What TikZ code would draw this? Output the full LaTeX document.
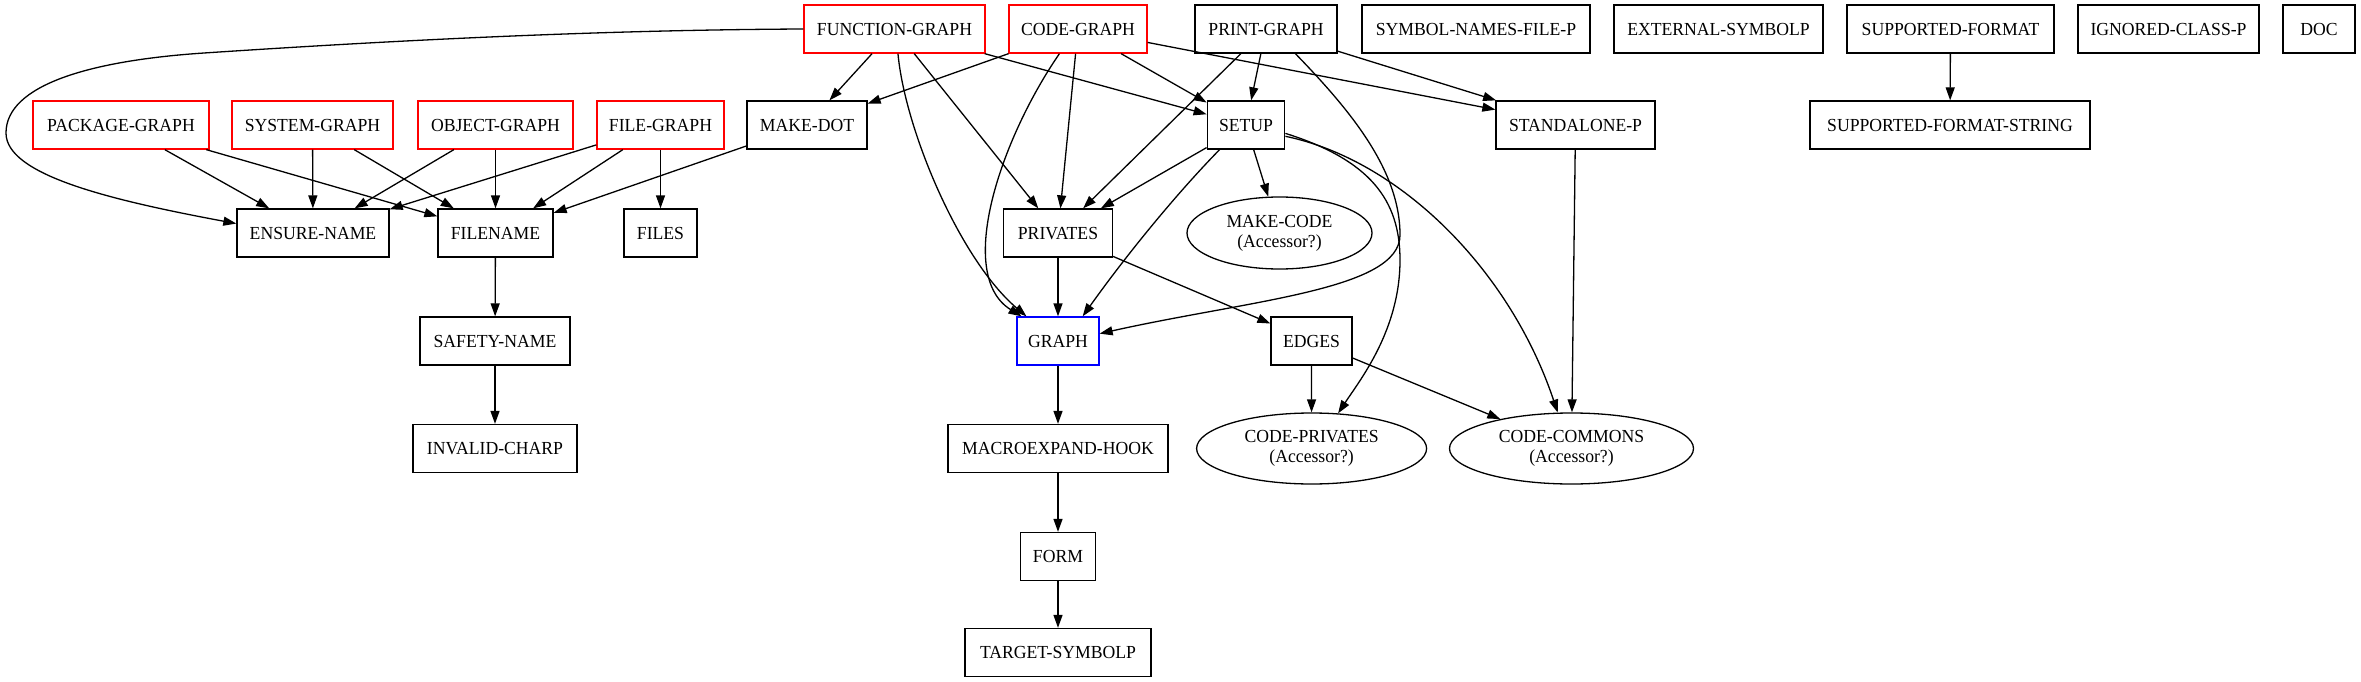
\documentclass[tikz,border=0pt]{standalone}
\usepackage{fontspec}
\setmainfont{Liberation Serif}[FakeStretch=0.96]
\usetikzlibrary{arrows.meta,shapes.geometric}
\begin{document}
\begin{tikzpicture}[x=1pt,y=-1pt,
  every node/.style={font=\fontsize{18.4}{20}\selectfont, inner sep=0pt, line width=1.3pt},
  box/.style={draw=black, rectangle, minimum height=48pt, text height=12.2pt, text depth=0pt},
  redbox/.style={box, draw=red},
  bluebox/.style={box, draw=blue},
  ell/.style={draw=black, ellipse, align=center},
  edge/.style={line width=1.3pt, -{Triangle[length=13pt,width=9pt]}}
]
\useasboundingbox (0,0) rectangle (2361,682);
% row 0
\node[redbox, minimum width=181pt] (fg) at (894.5,29) {FUNCTION-GRAPH};
\node[redbox, minimum width=138pt] (cg) at (1078,29) {CODE-GRAPH};
\node[box, minimum width=142pt] (pg) at (1266,29) {PRINT-GRAPH};
\node[box, minimum width=228pt] (sn) at (1476,29) {SYMBOL-NAMES-FILE-P};
\node[box, minimum width=209pt] (es) at (1718.5,29) {EXTERNAL-SYMBOLP};
\node[box, minimum width=207pt] (sf) at (1950.5,29) {SUPPORTED-FORMAT};
\node[box, minimum width=181pt] (ig) at (2168.5,29) {IGNORED-CLASS-P};
\node[box, minimum width=72pt] (doc) at (2319,29) {DOC};
% row 1
\node[redbox, minimum width=176pt] (pk) at (121,125) {PACKAGE-GRAPH};
\node[redbox, minimum width=161pt] (sy) at (312.5,125) {SYSTEM-GRAPH};
\node[redbox, minimum width=155pt] (ob) at (495.5,125) {OBJECT-GRAPH};
\node[redbox, minimum width=127pt] (fi) at (660.5,125) {FILE-GRAPH};
\node[box, minimum width=120pt] (md) at (807,125) {MAKE-DOT};
\node[box, minimum width=77.5pt] (su) at (1246,125) {SETUP};
\node[box, minimum width=159pt] (sp) at (1575.5,125) {STANDALONE-P};
\node[box, minimum width=280pt] (sfs) at (1950,125) {SUPPORTED-FORMAT-STRING};
% row 2
\node[box, minimum width=152pt] (en) at (313,233) {ENSURE-NAME};
\node[box, minimum width=115pt] (fn) at (495.5,233) {FILENAME};
\node[box, minimum width=73pt] (fs) at (660.5,233) {FILES};
\node[box, minimum width=108.6pt] (pr) at (1058,233) {PRIVATES};
\node[ell, minimum width=185pt, minimum height=72pt] (mc) at (1279.5,233) {MAKE-CODE\\(Accessor?)};
% row 3
\node[box, minimum width=150pt] (sa) at (495,341) {SAFETY-NAME};
\node[bluebox, minimum width=82pt] (gr) at (1058,341) {GRAPH};
\node[box, minimum width=81pt] (ed) at (1311.5,341) {EDGES};
% row 4
\node[box, minimum width=164pt] (ic) at (495,448.5) {INVALID-CHARP};
\node[box, minimum width=220pt] (mh) at (1058,448.5) {MACROEXPAND-HOOK};
\node[ell, minimum width=230pt, minimum height=71pt] (cp) at (1311.6,448.5) {CODE-PRIVATES\\(Accessor?)};
\node[ell, minimum width=244pt, minimum height=71pt] (cc) at (1571.5,448.5) {CODE-COMMONS\\(Accessor?)};
% row 5, 6
\node[box, minimum width=75pt] (fo) at (1058,556.5) {FORM};
\node[box, minimum width=186pt] (ts) at (1058,652.5) {TARGET-SYMBOLP};

% edges from FUNCTION-GRAPH
\draw[edge] (fg.west) .. controls (600,30) and (400,40) .. (204,53)
  .. controls (90,60.6) and (6,85) .. (6,133)
  .. controls (6,175) and (110,200) .. (en.173);
\draw[edge] (fg) -- (md);
\draw[edge] (fg) -- (su);
\draw[edge] (fg) -- (pr);
\draw[edge] (fg.-82) .. controls (905,130) and (960,260) .. (gr.142);
% edges from CODE-GRAPH
\draw[edge] (cg) -- (md);
\draw[edge] (cg.233) .. controls (1000,140) and (955,275) .. (gr.146);
\draw[edge] (cg) -- (pr);
\draw[edge] (cg) -- (su);
\draw[edge] (cg) -- (sp);
% edges from PRINT-GRAPH
\draw[edge] (pg) -- (pr);
\draw[edge] (pg) -- (su);
\draw[edge] (pg) -- (sp);
\draw[edge] (pg.-40) .. controls (1350,110) and (1400,170) .. (1400,235)
  .. controls (1400,290) and (1250,300) .. (gr.10);
% left cluster
\draw[edge] (pk) -- (en);
\draw[edge] (pk) -- (fn);
\draw[edge] (sy) -- (en);
\draw[edge] (sy) -- (fn);
\draw[edge] (ob) -- (en);
\draw[edge] (ob) -- (fn);
\draw[edge] (fi) -- (en);
\draw[edge] (fi) -- (fn);
\draw[edge] (fi) -- (fs);
\draw[edge] (md) -- (fn);
\draw[edge] (fn) -- (sa);
\draw[edge] (sa) -- (ic);
% SETUP
\draw[edge] (su) -- (pr);
\draw[edge] (su) -- (mc);
\draw[edge] (su.223) .. controls (1180,190) and (1130,250) .. (gr.45);
\draw[edge] (su.-12) .. controls (1370,160) and (1400,200) .. (1400,260)
  .. controls (1400,330) and (1360,380) .. (cp.53);
\draw[edge] (su.-16) .. controls (1400,160) and (1510,270) .. (cc.111);
% rest
\draw[edge] (pr) -- (gr);
\draw[edge] (pr) -- (ed);
\draw[edge] (ed) -- (cp);
\draw[edge] (ed) -- (cc);
\draw[edge] (sp) -- (cc);
\draw[edge] (gr) -- (mh);
\draw[edge] (mh) -- (fo);
\draw[edge] (fo) -- (ts);
\draw[edge] (sf) -- (sfs);
\end{tikzpicture}
\end{document}
